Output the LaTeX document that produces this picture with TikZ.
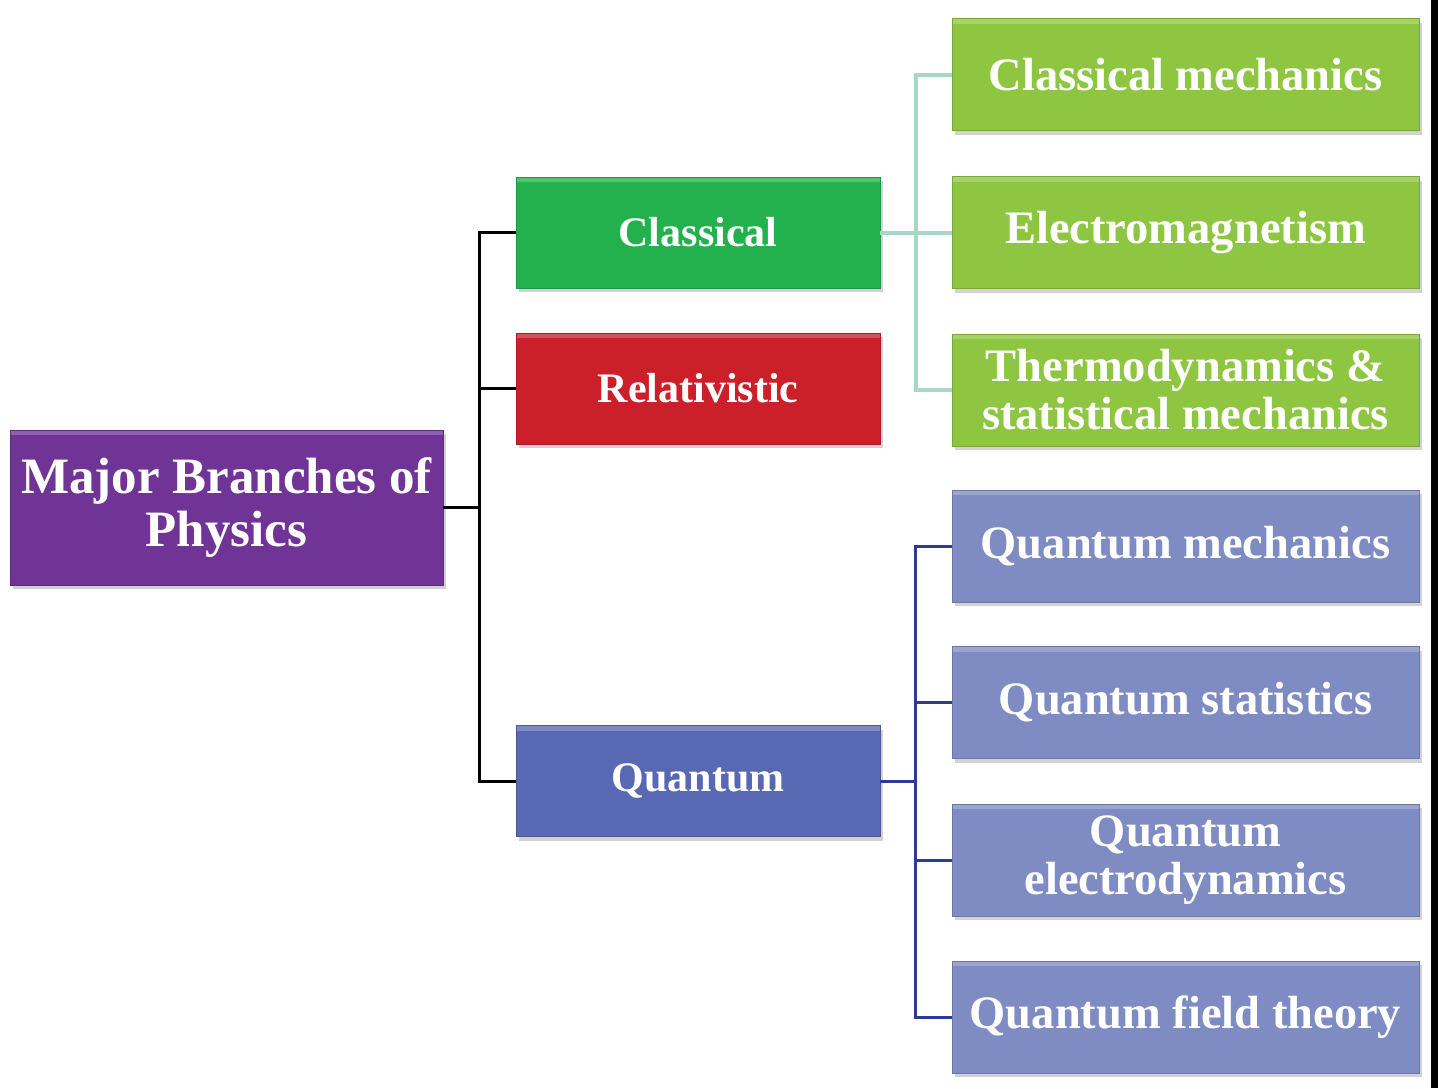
\documentclass[tikz,border=0pt]{standalone}
\usepackage{fontspec}
\setmainfont{Liberation Serif}
\usetikzlibrary{shadows}
\definecolor{rootc}{HTML}{6F3495}
\definecolor{classc}{HTML}{22B14C}
\definecolor{relc}{HTML}{CB1F2A}
\definecolor{quanc}{HTML}{5868B3}
\definecolor{greenleaf}{HTML}{8EC642}
\definecolor{blueleaf}{HTML}{7F8CC4}
\definecolor{tealline}{HTML}{A6D8C6}
\definecolor{blueline}{HTML}{2E3A97}
\begin{document}
\begin{tikzpicture}[x=1pt,y=-1pt,
  box/.style={rectangle, inner sep=0pt, align=center, text=white,
    fill=#1, draw=#1!85!black, line width=0.8pt,
    drop shadow={shadow xshift=3pt,shadow yshift=-4pt,opacity=0.35},
    path picture={\fill[white,opacity=0.22] (path picture bounding box.north west) rectangle ([yshift=-5pt]path picture bounding box.north east);}},
  rootbox/.style={box=rootc, minimum width=433pt, minimum height=155pt,
    font=\fontsize{51}{53}\selectfont\bfseries},
  midbox/.style={box=#1, minimum width=364pt, minimum height=111pt,
    font=\fontsize{42}{46}\selectfont\bfseries},
  leafbox/.style={box=#1, minimum width=467pt, minimum height=112pt,
    font=\fontsize{46.5}{48}\selectfont\bfseries},
  blk/.style={draw=black, line width=3pt},
  tealc/.style={draw=tealline, line width=4pt},
  bluec/.style={draw=blueline, line width=3pt}]
\useasboundingbox (0,0) rectangle (1438,1088);
\fill[white] (0,0) rectangle (1438,1088);
\fill[black] (1431,0) rectangle (1438,1088);

\node[rootbox] (root) at (226.5,507.5) {Major Branches of\\Physics};
\node[midbox=classc] (cl) at (698,232.5) {Classical};
\node[midbox=relc] (rel) at (698,388.5) {Relativistic};
\node[midbox=quanc] (qu) at (698,781) {Quantum};

\node[leafbox=greenleaf] (cm) at (1185.5,74.5) {Classical mechanics};
\node[leafbox=greenleaf] (em) at (1185.5,232.5) {Electromagnetism};
\node[leafbox=greenleaf] (th) at (1185.5,390) {Thermodynamics \&\\statistical mechanics};
\node[leafbox=blueleaf] (qm) at (1185.5,546) {Quantum mechanics};
\node[leafbox=blueleaf] (qs) at (1185.5,702.5) {Quantum statistics};
\node[leafbox=blueleaf] (qe) at (1185.5,860) {Quantum\\electrodynamics};
\node[leafbox=blueleaf] (qf) at (1185.5,1017) {Quantum field theory};

% black connectors
\draw[blk] (root.east) -- ++(37,0);
\draw[blk] (cl.west) -- ++(-36,0) |- (qu.west);
\draw[blk] (rel.west) -- ++(-36,0);
% teal connectors
\draw[tealc] (cm.west) -- ++(-36,0) |- (th.west);
\draw[tealc] (cl.east) -- (em.west);
% blue connectors
\draw[bluec] (qm.west) -- ++(-36,0) |- (qf.west);
\draw[bluec] (qs.west) -- ++(-36,0);
\draw[bluec] (qe.west) -- ++(-36,0);
\draw[bluec] (qu.east) -- ++(36,0);
\end{tikzpicture}
\end{document}
